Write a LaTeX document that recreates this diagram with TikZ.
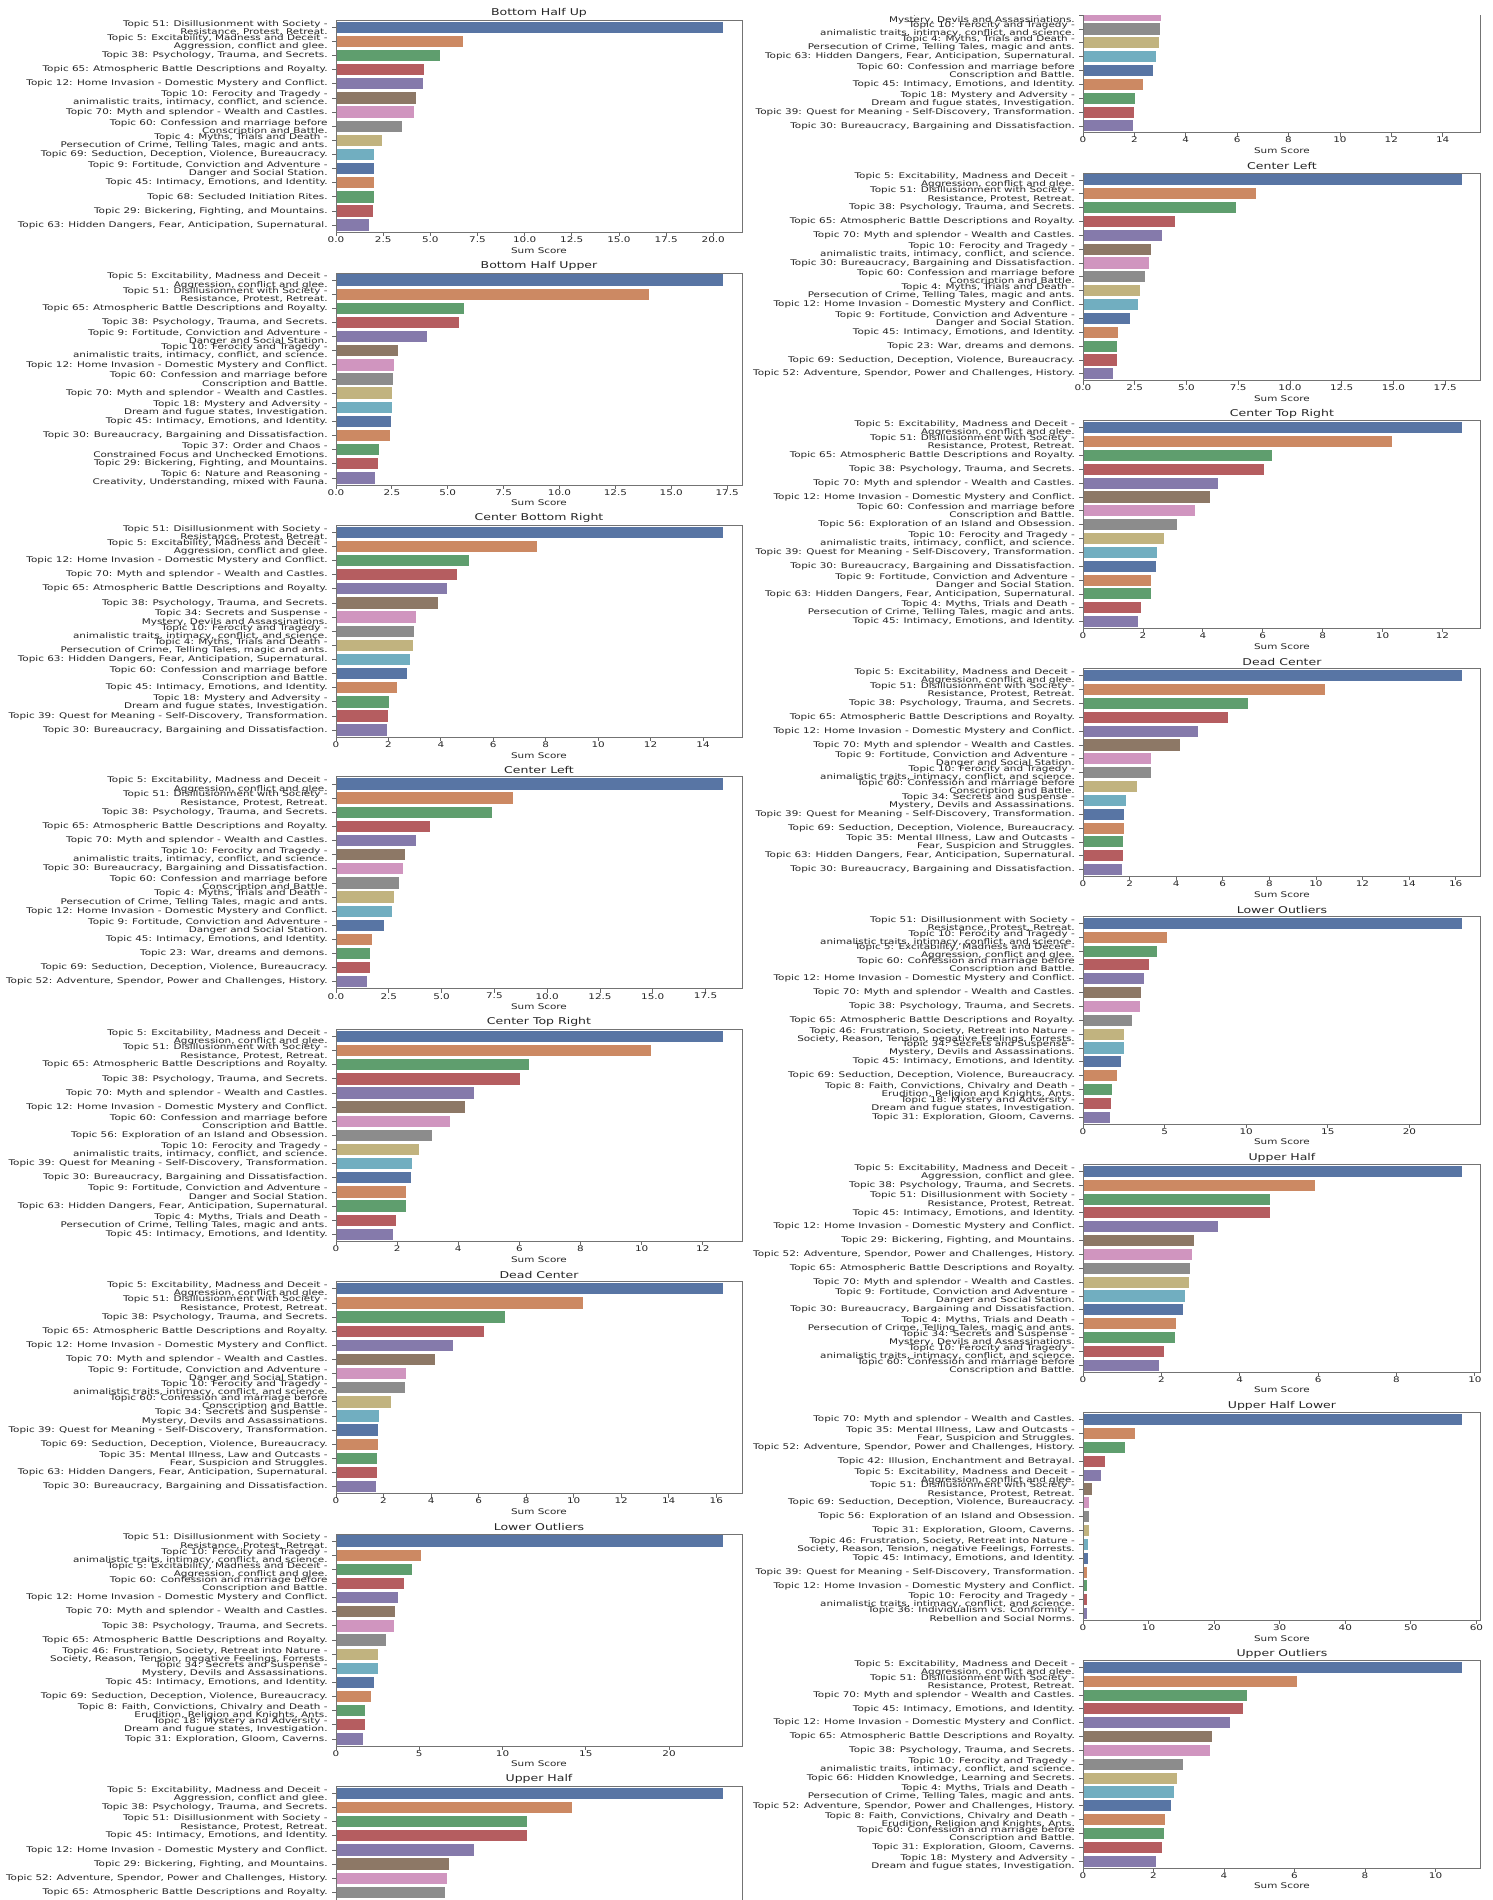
\documentclass[tikz,border=0pt]{standalone}
\usepackage{fontspec}
\setmainfont{DejaVu Sans}
\usepackage{graphicx}
\usetikzlibrary{positioning}

\definecolor{bar0}{HTML}{5875A4}
\definecolor{bar1}{HTML}{CC8963}
\definecolor{bar2}{HTML}{5F9E6E}
\definecolor{bar3}{HTML}{B55D60}
\definecolor{bar4}{HTML}{857AAB}
\definecolor{bar5}{HTML}{8D7866}
\definecolor{bar6}{HTML}{D095BF}
\definecolor{bar7}{HTML}{8C8C8C}
\definecolor{bar8}{HTML}{C1B37F}
\definecolor{bar9}{HTML}{71AEC0}

\newcommand\sq[1]{\scalebox{1}[0.75]{#1}}
\newcommand\topic[3]{\expandafter\def\csname ta#1\endcsname{#2}\expandafter\def\csname tb#1\endcsname{#3}}

\topic{4}{Topic 4: Myths, Trials and Death -}{Persecution of Crime, Telling Tales, magic and ants.}
\topic{5}{Topic 5: Excitability, Madness and Deceit -}{Aggression, conflict and glee.}
\topic{6}{Topic 6: Nature and Reasoning -}{Creativity, Understanding, mixed with Fauna.}
\topic{8}{Topic 8: Faith, Convictions, Chivalry and Death -}{Erudition, Religion and Knights, Ants.}
\topic{9}{Topic 9: Fortitude, Conviction and Adventure -}{Danger and Social Station.}
\topic{10}{Topic 10: Ferocity and Tragedy -}{animalistic traits, intimacy, conflict, and science.}
\topic{12}{Topic 12: Home Invasion - Domestic Mystery and Conflict.}{}
\topic{18}{Topic 18: Mystery and Adversity -}{Dream and fugue states, Investigation.}
\topic{23}{Topic 23: War, dreams and demons.}{}
\topic{29}{Topic 29: Bickering, Fighting, and Mountains.}{}
\topic{30}{Topic 30: Bureaucracy, Bargaining and Dissatisfaction.}{}
\topic{31}{Topic 31: Exploration, Gloom, Caverns.}{}
\topic{34}{Topic 34: Secrets and Suspense -}{Mystery, Devils and Assassinations.}
\topic{35}{Topic 35: Mental Illness, Law and Outcasts -}{Fear, Suspicion and Struggles.}
\topic{36}{Topic 36: Individualism vs. Conformity -}{Rebellion and Social Norms.}
\topic{37}{Topic 37: Order and Chaos -}{Constrained Focus and Unchecked Emotions.}
\topic{38}{Topic 38: Psychology, Trauma, and Secrets.}{}
\topic{39}{Topic 39: Quest for Meaning - Self-Discovery, Transformation.}{}
\topic{42}{Topic 42: Illusion, Enchantment and Betrayal.}{}
\topic{45}{Topic 45: Intimacy, Emotions, and Identity.}{}
\topic{46}{Topic 46: Frustration, Society, Retreat into Nature -}{Society, Reason, Tension, negative Feelings, Forrests.}
\topic{51}{Topic 51: Disillusionment with Society -}{Resistance, Protest, Retreat.}
\topic{52}{Topic 52: Adventure, Spendor, Power and Challenges, History.}{}
\topic{56}{Topic 56: Exploration of an Island and Obsession.}{}
\topic{60}{Topic 60: Confession and marriage before}{Conscription and Battle.}
\topic{63}{Topic 63: Hidden Dangers, Fear, Anticipation, Supernatural.}{}
\topic{65}{Topic 65: Atmospheric Battle Descriptions and Royalty.}{}
\topic{66}{Topic 66: Hidden Knowledge, Learning and Secrets.}{}
\topic{68}{Topic 68: Secluded Initiation Rites.}{}
\topic{69}{Topic 69: Seduction, Deception, Violence, Bureaucracy.}{}
\topic{70}{Topic 70: Myth and splendor - Wealth and Castles.}{}

% topic/score per chart
\def\sBottomHalfUp{51/20.5,5/6.71,38/5.50,65/4.69,12/4.62,10/4.24,70/4.14,60/3.51,4/2.42,69/2.04,9/2.04,45/1.99,68/1.99,29/1.94,63/1.77}
\def\sBottomHalfUpper{5/17.3,51/14.0,65/5.72,38/5.51,9/4.09,10/2.77,12/2.60,60/2.55,70/2.51,18/2.51,45/2.47,30/2.43,37/1.91,29/1.87,6/1.74}
\def\sCenterBottomRight{51/14.75,5/7.68,12/5.08,70/4.61,65/4.23,38/3.90,34/3.05,10/2.98,4/2.94,63/2.83,60/2.72,45/2.32,18/2.03,39/2.00,30/1.96}
\def\sCenterLeft{5/18.31,51/8.36,38/7.39,65/4.46,70/3.81,10/3.27,30/3.18,60/3.00,4/2.73,12/2.66,9/2.25,45/1.69,23/1.62,69/1.62,52/1.46}
\def\sCenterTopRight{5/12.65,51/10.30,65/6.30,38/6.03,70/4.50,12/4.23,60/3.73,56/3.13,10/2.70,39/2.47,30/2.44,9/2.28,63/2.28,4/1.95,45/1.85}
\def\sDeadCenter{5/16.27,51/10.40,38/7.10,65/6.22,12/4.94,70/4.16,9/2.93,10/2.91,60/2.32,34/1.83,39/1.78,69/1.76,35/1.72,63/1.72,30/1.68}
\def\sLowerOutliers{51/23.22,10/5.12,5/4.54,60/4.07,12/3.75,70/3.54,38/3.48,65/2.99,46/2.52,34/2.52,45/2.31,69/2.08,8/1.76,18/1.73,31/1.64}
\def\sUpperHalf{5/9.67,38/5.91,51/4.77,45/4.77,12/3.45,29/2.83,52/2.78,65/2.72,70/2.71,9/2.61,30/2.55,4/2.37,34/2.34,10/2.07,60/1.93}
\def\sUpperHalfLower{70/57.8,35/8.0,52/6.4,42/3.35,5/2.69,51/1.31,69/0.95,56/0.95,31/0.95,46/0.8,45/0.8,39/0.65,12/0.65,10/0.65,36/0.65}
\def\sUpperOutliers{5/10.75,51/6.06,70/4.65,45/4.55,12/4.17,65/3.66,38/3.59,10/2.85,66/2.68,4/2.57,52/2.49,8/2.34,60/2.30,31/2.25,18/2.06}

\tikzset{
  axbox/.style={draw=black!55, line width=0.5pt},
  axtick/.style={draw=black!60, line width=0.4pt},
  lbl/.style={anchor=east, inner sep=0pt, font=\fontsize{5.2}{6}\selectfont, text=black!85},
  ticklbl/.style={inner sep=0pt, font=\fontsize{5.2}{6}\selectfont, text=black!85},
  ttl/.style={inner sep=0pt, font=\fontsize{6.25}{7.5}\selectfont, text=black!85}
}

% #1 axis left, #2 axis top, #3 scale, #4 title, #5 largest score, #6 ticks, #7 scores
\newcommand\hbarchart[7]{%
  \begin{scope}[shift={(#1,#2)}, scale=#3]
    \pgfmathsetmacro\ux{406/(1.05*#5)}
    \node[ttl] (title) at (203,-7) {\sq{#4}};
    \foreach \t/\v [count=\i from 0] in #7 {
      \pgfmathsetmacro\yc{(\i+0.5)*212/15}
      \pgfmathtruncatemacro\c{mod(\i,10)}
      \fill[bar\c] (0,\yc-5.65) rectangle (\v*\ux,\yc+5.65);
      \draw[axtick] (-4,\yc) -- (0,\yc);
      \expandafter\ifx\csname tb\t\endcsname\empty
        \node[lbl] (lbl\i) at (-8,\yc) {\sq{\csname ta\t\endcsname}};
      \else
        \node[lbl] (lbl\i) at (-8,\yc-3.3) {\sq{\csname ta\t\endcsname}};
        \node[lbl] (lblb\i) at (-8,\yc+4.9) {\sq{\csname tb\t\endcsname}};
      \fi
    }
    \foreach \x [count=\k] in {#6} {
      \draw[axtick] (\x*\ux,212) -- (\x*\ux,216);
      \node[ticklbl] (tick\k) at (\x*\ux,219.3) {\sq{\x}};
    }
    \node[ticklbl] (xlab) at (203,230) {\sq{Sum Score}};
    \draw[axbox] (0,0) rectangle (406,212);
  \end{scope}}

\begin{document}
\begin{tikzpicture}[x=0.5pt, y=-0.5pt]
  \useasboundingbox (0,0) rectangle (1493,1900);
  \fill[white] (0,0) rectangle (1493,1900);
  \clip (0,0) rectangle (1493,1900);

  % left column
  \hbarchart{336}{20.2}{1}{Bottom Half Up}{20.5}{0.0,2.5,5.0,7.5,10.0,12.5,15.0,17.5,20.0}{\sBottomHalfUp}
  \hbarchart{336}{273}{1}{Bottom Half Upper}{17.3}{0.0,2.5,5.0,7.5,10.0,12.5,15.0,17.5}{\sBottomHalfUpper}
  \hbarchart{336}{525.2}{1}{Center Bottom Right}{14.75}{0,2,...,14}{\sCenterBottomRight}
  \hbarchart{336}{776.9}{1}{Center Left}{18.31}{0.0,2.5,5.0,7.5,10.0,12.5,15.0,17.5}{\sCenterLeft}
  \hbarchart{336}{1029.4}{1}{Center Top Right}{12.65}{0,2,...,12}{\sCenterTopRight}
  \hbarchart{336}{1281.7}{1}{Dead Center}{16.27}{0,2,...,16}{\sDeadCenter}
  \hbarchart{336}{1534}{1}{Lower Outliers}{23.22}{0,5,...,20}{\sLowerOutliers}
  \hbarchart{336}{1786.3}{1}{Upper Half}{9.67}{0,2,...,10}{\sUpperHalf}

  % right column, the first one is cut at the top
  \hbarchart{1083}{-74.9}{0.98}{Center Bottom Right}{14.75}{0,2,...,14}{\sCenterBottomRight}
  \fill[white] (748,0) rectangle (1493,15);
  \hbarchart{1083}{173}{0.98}{Center Left}{18.31}{0.0,2.5,5.0,7.5,10.0,12.5,15.0,17.5}{\sCenterLeft}
  \hbarchart{1083}{420.8}{0.98}{Center Top Right}{12.65}{0,2,...,12}{\sCenterTopRight}
  \hbarchart{1083}{668.8}{0.98}{Dead Center}{16.27}{0,2,...,16}{\sDeadCenter}
  \hbarchart{1083}{916.4}{0.98}{Lower Outliers}{23.22}{0,5,...,20}{\sLowerOutliers}
  \hbarchart{1083}{1164.4}{0.98}{Upper Half}{9.67}{0,2,...,10}{\sUpperHalf}
  \hbarchart{1083}{1412.8}{0.98}{Upper Half Lower}{57.8}{0,10,...,60}{\sUpperHalfLower}
  \hbarchart{1083}{1660.4}{0.98}{Upper Outliers}{10.75}{0,2,...,10}{\sUpperOutliers}
\end{tikzpicture}
\end{document}
